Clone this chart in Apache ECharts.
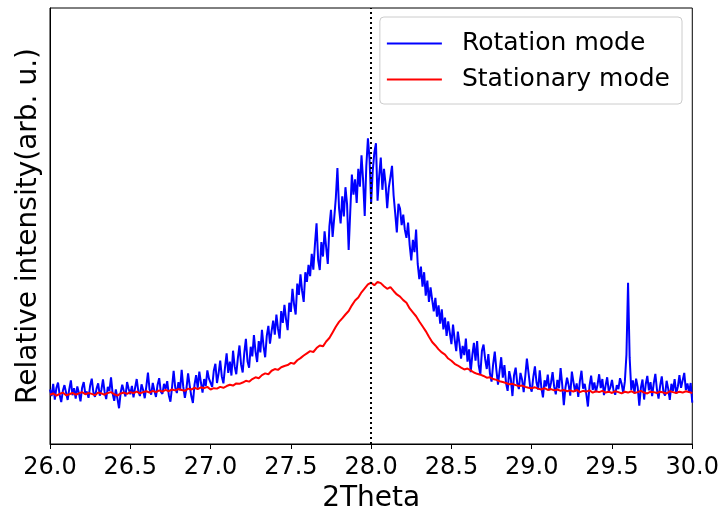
<!DOCTYPE html>
<html>
<head>
<meta charset="utf-8">
<script src="https://cdn.jsdelivr.net/npm/echarts@6/dist/echarts.min.js"></script>
<style>
  html, body { margin: 0; padding: 0; background: #fff; }
  #chart { width: 722px; height: 518px; }
</style>
</head>
<body>
<div id="chart"></div>
<script>
// Diffraction scan, 2Theta 26.0 - 30.0 deg
var rotationStart = 26.0, rotationStep = 0.01;
var stationaryStart = 26.0, stationaryStep = 0.02;
var xTicks = [26.0, 26.5, 27.0, 27.5, 28.0, 28.5, 29.0, 29.5, 30.0];
var markerAngle = 28.0;

// Rotation mode intensity (arb. u.), one sample every 0.01 deg
var rotationMode = [
  12.5, 11.0, 13.8, 10.2, 12.9, 14.1, 11.3, 9.6, 12.2, 13.5,
  11.8, 10.1, 12.6, 14.6, 11.2, 12.8, 10.4, 13.2, 11.7, 9.8,
  12.9, 14.2, 11.5, 12.0, 10.6, 13.4, 15.0, 11.9, 10.8, 12.7,
  13.9, 11.1, 12.4, 14.8, 12.0, 10.3, 13.1, 12.2, 15.3, 11.6,
  9.9, 12.5, 10.4, 8.2, 11.8, 13.6, 12.1, 10.9, 14.2, 12.6,
  11.4, 13.3, 10.7, 12.9, 14.9, 12.1, 11.0, 13.7, 12.4, 10.5,
  13.2, 16.4, 12.5, 11.3, 14.0, 12.2, 10.8, 13.6, 15.1, 12.0,
  11.5, 13.8, 12.6, 14.4, 11.2, 9.7, 13.0, 16.8, 12.9, 11.7,
  14.2, 12.3, 17.0, 13.1, 10.6, 12.8, 16.2, 13.4, 11.0, 9.4,
  13.6, 15.8, 12.9, 16.6, 14.1, 11.8, 14.9, 13.3, 16.9, 15.0,
  15.2, 13.1, 16.8, 18.4, 14.0, 16.2, 19.1, 15.5, 13.9, 17.6,
  20.8, 16.3, 18.9, 15.7, 21.4, 17.8, 16.0, 19.7, 22.6, 18.2,
  16.4, 20.9, 24.1, 19.0, 17.5, 22.3, 20.1, 25.0, 21.2, 18.8,
  23.6, 21.0, 26.2, 22.4, 19.9, 24.8, 27.1, 23.0, 25.9, 28.3,
  25.1, 29.7, 26.4, 24.2, 30.5, 27.8, 31.9, 28.6, 26.1, 32.4,
  30.3, 35.6, 32.0, 29.7, 36.8, 34.2, 38.9, 35.1, 32.6, 39.4,
  37.2, 41.1, 38.5, 43.6, 40.0, 45.8, 50.6, 42.2, 39.9, 46.3,
  43.0, 48.8, 45.1, 41.3, 49.9, 53.7, 47.5, 51.8, 56.4, 63.3,
  54.1, 50.6, 56.8, 52.2, 58.9, 55.0, 44.5, 53.4, 61.8, 57.2,
  60.7, 55.3, 63.1, 59.0, 66.2, 60.5, 52.3, 63.8, 70.1, 65.4,
  55.2, 62.7, 66.9, 69.0, 55.8, 61.4, 65.7, 58.3, 63.1, 59.6,
  54.1, 58.8, 61.2, 63.8, 57.0, 52.9, 48.5, 55.1, 54.0, 50.2,
  52.6, 49.1, 47.3, 50.8, 45.6, 42.1, 46.8, 44.0, 49.2, 41.3,
  37.8, 40.7, 36.1, 39.4, 34.0, 37.5, 32.6, 35.9, 33.1, 30.4,
  33.5, 29.2, 31.8, 27.6, 30.9, 26.3, 29.0, 24.8, 28.1, 25.5,
  22.9, 27.4, 24.0, 21.3, 25.8, 23.1, 19.6, 22.5, 20.4, 24.2,
  18.9, 21.7, 16.5, 20.3, 23.2, 19.1, 23.6, 18.0, 15.9, 21.4,
  22.8, 19.5, 17.2, 20.6, 16.1, 14.3, 18.4, 21.2, 17.0, 13.6,
  16.8, 19.9, 15.2, 18.1, 14.0, 12.2, 16.7, 14.9, 11.0, 15.8,
  17.5, 13.9, 12.6, 16.3, 14.8, 11.9, 15.6, 19.6, 16.4, 13.2,
  12.0, 15.4, 17.8, 14.1, 12.5, 16.9, 13.0, 10.7, 14.6, 13.2,
  15.9, 12.3, 14.0, 16.5, 13.1, 11.4, 14.7, 12.8, 17.4, 13.6,
  8.9, 12.9, 15.2, 13.5, 11.1, 16.6, 14.2, 12.0, 13.9, 10.8,
  14.4, 16.8, 12.7, 13.8, 11.5, 8.6, 13.3, 15.7, 12.4, 14.1,
  11.9, 13.6, 16.0, 12.8, 14.9, 11.2, 13.4, 15.3, 12.1, 13.0,
  14.7, 12.2, 11.3, 13.5, 12.6, 15.1, 13.8, 11.7, 14.3, 20.5,
  37.0, 19.8, 12.4, 14.6, 11.6, 15.0, 13.1, 8.8, 12.9, 14.8,
  10.2, 13.7, 15.6, 12.3, 14.2, 11.0, 13.9, 16.1, 12.5, 10.4,
  13.4, 15.5, 12.0, 11.1, 14.5, 12.7, 10.1, 13.8, 12.2, 14.9,
  11.6, 13.1, 15.8, 12.9, 14.6, 16.3, 12.4, 13.9, 11.8, 14.0,
  9.5
];

// Stationary mode intensity (arb. u.), one sample every 0.02 deg
var stationaryMode = [
  11.3, 11.6, 11.1, 11.5, 11.8, 11.2, 11.4, 11.7, 11.3, 11.6,
  11.9, 11.4, 11.7, 11.5, 11.2, 11.8, 11.6, 11.3, 11.7, 11.9,
  11.4, 11.1, 11.6, 11.8, 11.5, 11.9, 11.7, 12.0, 11.6, 11.9,
  12.1, 11.8, 12.2, 11.9, 12.3, 12.0, 12.4, 12.1, 12.5, 12.3,
  12.6, 12.4, 12.2, 12.7, 12.5, 12.9, 12.6, 13.0, 12.8, 13.1,
  12.5, 12.8, 12.7, 13.1, 12.9, 13.3, 13.6, 13.4, 13.9, 13.8,
  14.1, 14.5, 14.3, 14.9, 15.3, 15.1, 15.8, 16.2, 16.0, 16.8,
  17.2, 17.0, 17.6, 17.9, 18.1, 18.6, 18.4, 19.2, 19.7, 20.3,
  20.8, 21.3, 21.1, 22.0, 22.6, 22.4, 23.5, 24.3, 25.6, 26.9,
  28.0, 28.8, 29.7, 30.5, 31.8, 32.9, 33.6, 34.8, 35.7, 36.6,
  37.0, 36.4, 37.2, 36.9, 36.2, 35.6, 36.0, 35.1, 34.3, 33.8,
  33.0, 32.4, 31.1, 30.2, 29.3, 28.1, 27.0, 25.9, 24.6, 23.4,
  22.6, 21.7, 21.0, 20.5, 19.6, 19.1, 18.4, 18.0, 17.5, 17.1,
  17.3, 16.9, 16.4, 16.1, 15.9, 15.6, 15.2, 15.3, 14.9, 14.7,
  14.4, 14.2, 14.0, 13.7, 13.8, 13.5, 13.3, 13.4, 13.1, 12.9,
  12.8, 13.0, 12.7, 12.5, 12.8, 12.4, 12.6, 12.3, 12.5, 12.2,
  12.4, 12.1, 12.3, 12.0, 12.4, 11.9, 12.2, 12.0, 12.3, 11.8,
  12.1, 11.9, 12.2, 11.8, 12.0, 11.7, 12.1, 11.9, 11.6, 12.0,
  11.8, 12.1, 11.7, 11.9, 12.2, 11.8, 11.6, 12.0, 11.9, 11.7,
  12.0, 11.8, 11.6, 12.1, 11.9, 11.7, 12.0, 11.8, 12.1, 11.9,
  11.7
];

function pairs(start, step, values) {
  return values.map(function (v, i) {
    return [+(start + i * step).toFixed(2), v];
  });
}

var FONT = 'DejaVu Sans';
var chart = echarts.init(document.getElementById('chart'), null, { renderer: 'canvas' });

chart.setOption({
  animation: false,
  backgroundColor: '#ffffff',
  textStyle: { fontFamily: FONT },
  grid: {
    left: 50, right: 29, top: 8, bottom: 74,
    show: true, borderColor: '#000', borderWidth: 1, backgroundColor: 'transparent'
  },
  legend: {
    orient: 'vertical',
    right: 40,
    top: 17,
    itemWidth: 55,
    itemHeight: 2,
    itemGap: 11,
    padding: [14, 12, 12, 7],
    backgroundColor: 'rgba(255,255,255,0.8)',
    borderColor: '#cccccc',
    borderWidth: 1,
    borderRadius: 4,
    textStyle: { fontFamily: FONT, fontSize: 25, color: '#000', padding: [0, 0, 0, 15] },
    data: [
      { name: 'Rotation mode', icon: 'rect' },
      { name: 'Stationary mode', icon: 'rect' }
    ]
  },
  xAxis: {
    type: 'value',
    min: xTicks[0],
    max: xTicks[xTicks.length - 1],
    interval: 0.5,
    name: '2Theta',
    nameLocation: 'middle',
    nameGap: 38,
    nameTextStyle: { fontFamily: FONT, fontSize: 28, color: '#000' },
    axisLine: { show: true, lineStyle: { color: '#000', width: 1 } },
    axisTick: { show: true, length: 5, lineStyle: { color: '#000', width: 1 } },
    axisLabel: {
      fontFamily: FONT, fontSize: 24, color: '#000', margin: 12,
      formatter: function (v) { return v.toFixed(1); }
    },
    splitLine: { show: false }
  },
  yAxis: {
    type: 'value',
    min: 0,
    max: 100,
    name: 'Relative intensity(arb. u.)',
    nameLocation: 'middle',
    nameGap: 7,
    nameTextStyle: { fontFamily: FONT, fontSize: 28, color: '#000' },
    axisLine: { show: true, lineStyle: { color: '#000', width: 1 } },
    axisTick: { show: false },
    axisLabel: { show: false },
    splitLine: { show: false }
  },
  series: [
    {
      name: 'Rotation mode',
      type: 'line',
      data: pairs(rotationStart, rotationStep, rotationMode),
      showSymbol: false,
      symbol: 'none',
      lineStyle: { color: '#0000ff', width: 2 },
      itemStyle: { color: '#0000ff' },
      markLine: {
        silent: true,
        symbol: 'none',
        label: { show: false },
        lineStyle: { color: '#000', type: [2, 3], width: 2 },
        data: [{ xAxis: markerAngle }]
      }
    },
    {
      name: 'Stationary mode',
      type: 'line',
      data: pairs(stationaryStart, stationaryStep, stationaryMode),
      showSymbol: false,
      symbol: 'none',
      lineStyle: { color: '#ff0000', width: 2 },
      itemStyle: { color: '#ff0000' }
    }
  ]
});
</script>
</body>
</html>
